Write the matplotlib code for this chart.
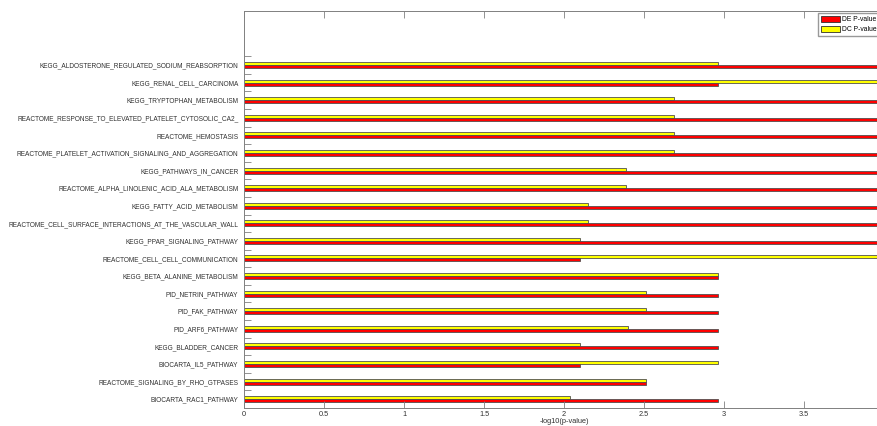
import numpy as np
import matplotlib
matplotlib.use('Agg')
import matplotlib.pyplot as plt
from matplotlib.patches import Patch
from matplotlib.ticker import FormatStrFormatter
from matplotlib import font_manager

plt.rcParams['font.family'] = ['Liberation Sans', 'DejaVu Sans']
names = sorted({f.name for f in font_manager.fontManager.ttflist})
narrow = 'Liberation Sans Narrow' if 'Liberation Sans Narrow' in names else 'Liberation Sans'

# pathways, top to bottom
pathways = [
    'KEGG_ALDOSTERONE_REGULATED_SODIUM_REABSORPTION',
    'KEGG_RENAL_CELL_CARCINOMA',
    'KEGG_TRYPTOPHAN_METABOLISM',
    'REACTOME_RESPONSE_TO_ELEVATED_PLATELET_CYTOSOLIC_CA2_',
    'REACTOME_HEMOSTASIS',
    'REACTOME_PLATELET_ACTIVATION_SIGNALING_AND_AGGREGATION',
    'KEGG_PATHWAYS_IN_CANCER',
    'REACTOME_ALPHA_LINOLENIC_ACID_ALA_METABOLISM',
    'KEGG_FATTY_ACID_METABOLISM',
    'REACTOME_CELL_SURFACE_INTERACTIONS_AT_THE_VASCULAR_WALL',
    'KEGG_PPAR_SIGNALING_PATHWAY',
    'REACTOME_CELL_CELL_COMMUNICATION',
    'KEGG_BETA_ALANINE_METABOLISM',
    'PID_NETRIN_PATHWAY',
    'PID_FAK_PATHWAY',
    'PID_ARF6_PATHWAY',
    'KEGG_BLADDER_CANCER',
    'BIOCARTA_IL5_PATHWAY',
    'REACTOME_SIGNALING_BY_RHO_GTPASES',
    'BIOCARTA_RAC1_PATHWAY',
]

# -log10(p-value); values past the right edge are cut off in the picture
de_pvalue = [4.5, 2.96, 4.5, 4.5, 4.5, 4.5, 4.5, 4.5, 4.5, 4.5,
             4.5, 2.10, 2.96, 2.96, 2.96, 2.96, 2.96, 2.10, 2.51, 2.96]
dc_pvalue = [2.96, 4.5, 2.69, 2.69, 2.69, 2.69, 2.39, 2.39, 2.15, 2.15,
             2.10, 4.5, 2.96, 2.51, 2.51, 2.40, 2.10, 2.96, 2.51, 2.04]

x_ticks = [0, 0.5, 1, 1.5, 2, 2.5, 3, 3.5]

W, H = 877, 426
fig = plt.figure(figsize=(W / 100, H / 100), dpi=100)
# axes runs a little past the right edge, like the cropped original
ax = fig.add_axes([244 / W, 18 / H, 640 / W, 397 / H])

y = np.arange(len(pathways))
bar_h = 0.17
ax.barh(y - bar_h / 2, dc_pvalue, height=bar_h, color='#ffff00',
        edgecolor='#505050', linewidth=0.6)
ax.barh(y + bar_h / 2, de_pvalue, height=bar_h, color='#ff0000',
        edgecolor='#505050', linewidth=0.6)

ax.set_xlim(0, 4)
ax.set_ylim(len(pathways) - 0.5, -3.07)

ax.set_xticks(x_ticks)
ax.xaxis.set_major_formatter(FormatStrFormatter('%g'))
ax.tick_params(axis='x', direction='in', length=5, top=True, width=0.6,
               color='#808080', labelsize=5.3, labelcolor='#303030', pad=2)

ax.set_yticks(y)
ax.set_yticklabels(pathways, family=narrow)
ax.set_yticks(y - 0.5, minor=True)
ax.tick_params(axis='y', which='major', length=0, labelsize=5.6,
               labelcolor='#303030', pad=4)
ax.tick_params(axis='y', which='minor', direction='in', length=5,
               width=0.6, color='#808080', right=True)

# squeeze labels so the longest fits like in the original (~230 px)
fig.canvas.draw()
widest = max(t.get_window_extent().width for t in ax.get_yticklabels())
if widest > 230:
    for t in ax.get_yticklabels():
        t.set_fontsize(5.6 * 230 / widest)

for s in ax.spines.values():
    s.set_color('#808080')
    s.set_linewidth(0.7)

ax.set_xlabel('-log10(p-value)', fontsize=5.3, color='#303030', labelpad=0)

handles = [Patch(facecolor='#ff0000', edgecolor='#303030', linewidth=0.6, label='DE P-value'),
           Patch(facecolor='#ffff00', edgecolor='#303030', linewidth=0.6, label='DC P-value')]
fig.legend(handles=handles, loc='upper left', bbox_to_anchor=(818 / W, 1 - 13 / H),
           prop={'family': narrow, 'size': 4.9}, frameon=True, fancybox=False,
           edgecolor='#808080', handlelength=2.9, handleheight=1.1,
           handletextpad=0.25, labelspacing=0.35, borderpad=0.4,
           borderaxespad=0)

plt.savefig('out.png', dpi=100)
plt.close()
